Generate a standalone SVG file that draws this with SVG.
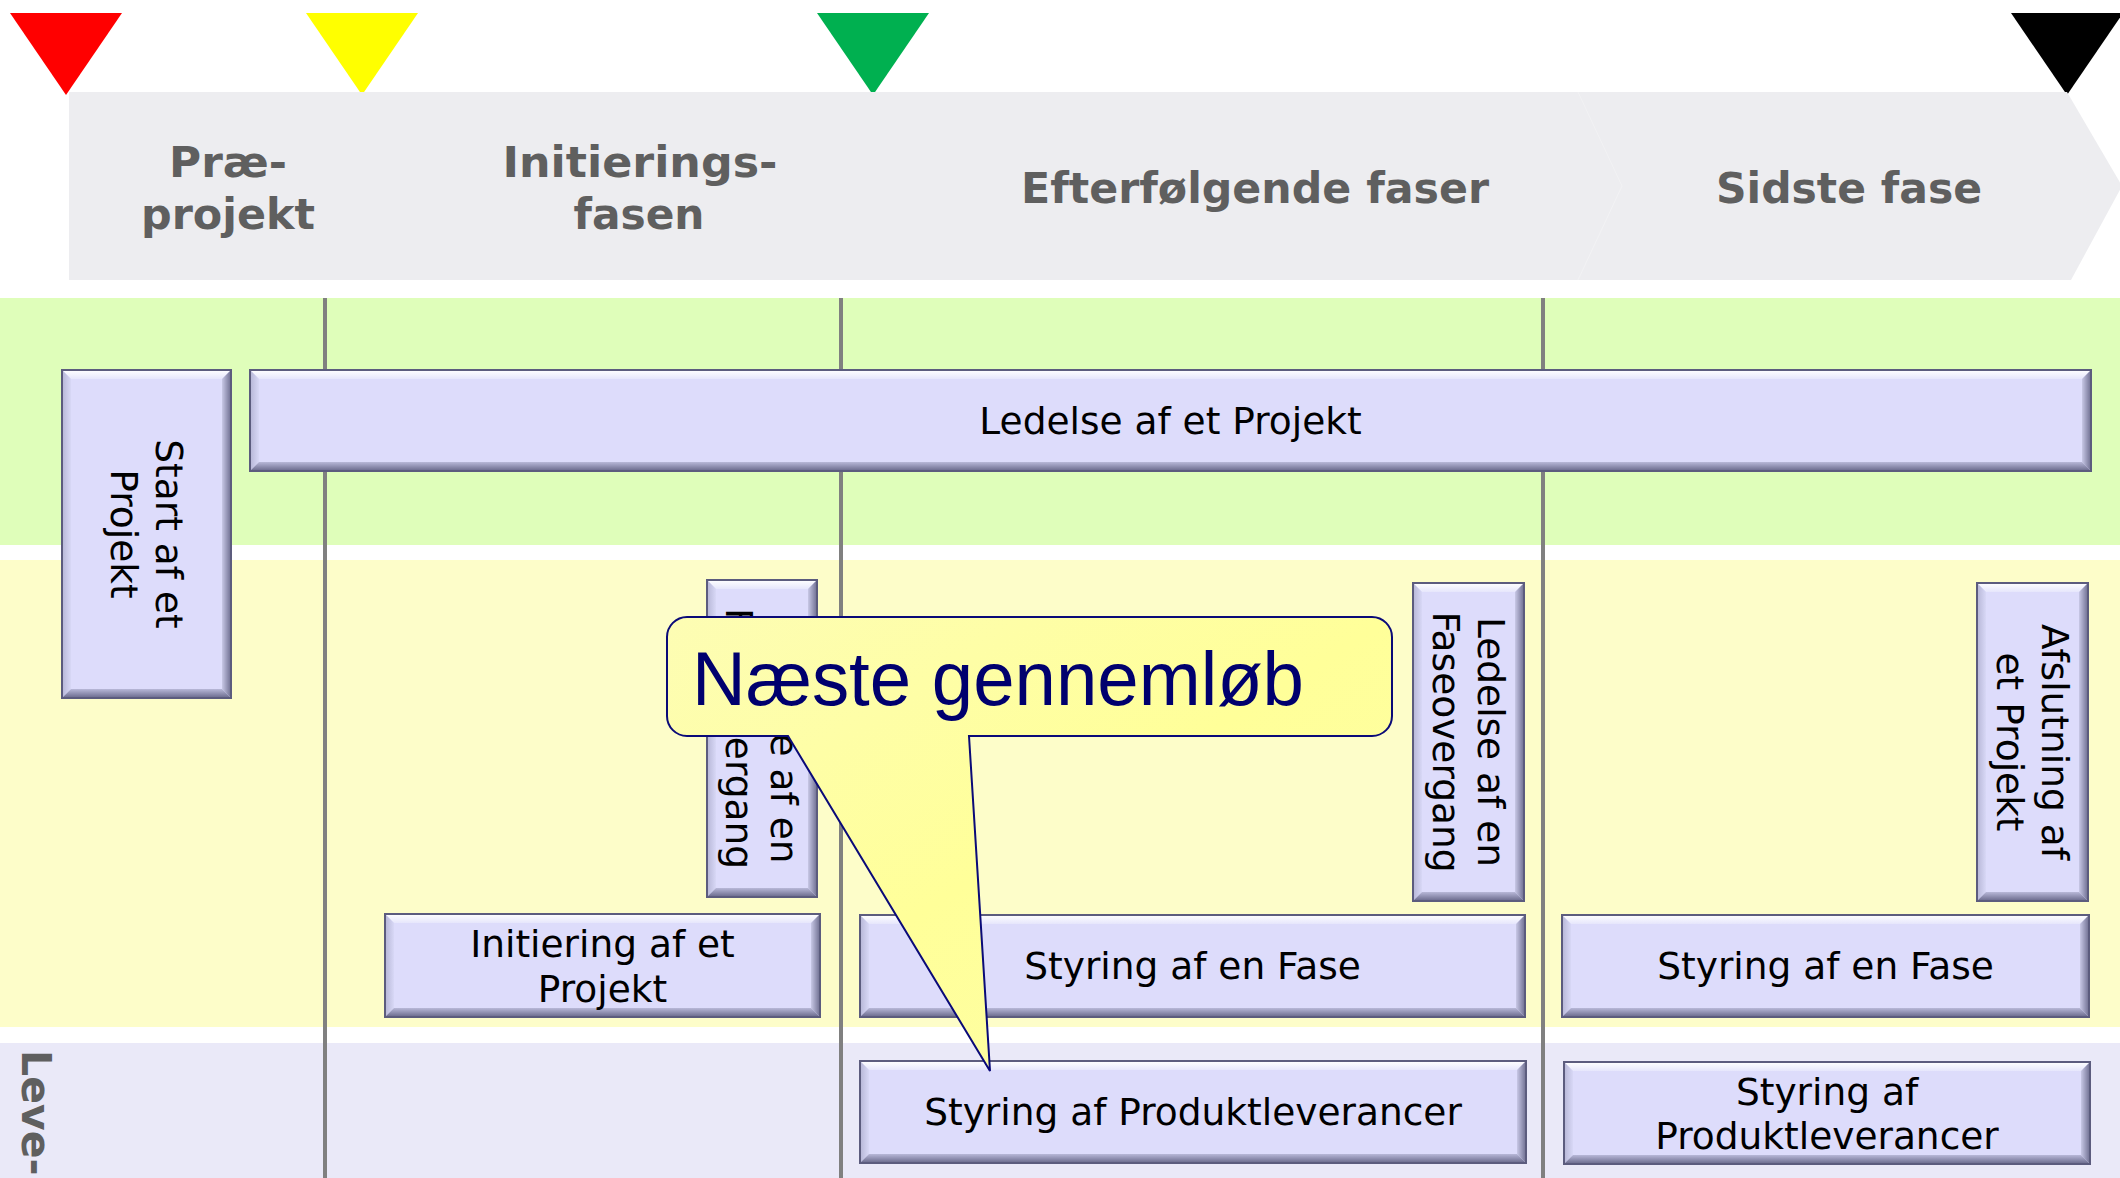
<svg xmlns="http://www.w3.org/2000/svg" width="2120" height="1178" viewBox="0 0 2120 1178">
<defs>
<style>
.hdr{font-family:"DejaVu Sans","Verdana",sans-serif;font-weight:bold;font-size:43px;fill:#5f5f5f;text-anchor:middle}
.bt{font-family:"DejaVu Sans","Verdana",sans-serif;font-size:37.5px;fill:#000;text-anchor:middle}
.face{fill:#dddcfb}
.edge{fill:none;stroke:#5c5c7e;stroke-width:2}
.vl{stroke:#808080;stroke-width:4;fill:none}
.tri{stroke:none}
</style>
<linearGradient id="gTop" x1="0" y1="0" x2="0" y2="1"><stop offset="0" stop-color="#ffffff"/><stop offset="1" stop-color="#e6e6fc"/></linearGradient>
<linearGradient id="gLeft" x1="0" y1="0" x2="1" y2="0"><stop offset="0" stop-color="#b6b6d6"/><stop offset="1" stop-color="#d8d8f6"/></linearGradient>
<linearGradient id="gRight" x1="0" y1="0" x2="1" y2="0"><stop offset="0" stop-color="#c8c8e6"/><stop offset="1" stop-color="#6e6e90"/></linearGradient>
<linearGradient id="gBottom" x1="0" y1="0" x2="0" y2="1"><stop offset="0" stop-color="#b8b8d8"/><stop offset="1" stop-color="#68688a"/></linearGradient>
<linearGradient id="gCall" x1="0" y1="0" x2="1" y2="1"><stop offset="0" stop-color="#fdfdb4"/><stop offset="0.5" stop-color="#ffff99"/><stop offset="1" stop-color="#fdfda8"/></linearGradient>
</defs>

<rect x="0" y="0" width="2120" height="1178" fill="#ffffff"/>

<g id="milestones">
<polygon class="tri" points="10,13 122,13 66,95" fill="#ff0000"/>
<polygon class="tri" points="306,13 418,13 362,95" fill="#ffff00"/>
<polygon class="tri" points="817,13 929,13 873,95" fill="#00b050"/>
<polygon class="tri" points="2011,13 2123,13 2067,95" fill="#000000"/>
</g>

<g id="phase-band">
<polygon points="69,92 2067,92 2122,186 2071,280 69,280" fill="#ededf0"/>
<polyline points="1578,92 1622,186 1578,280" fill="none" stroke="#f2f2f4" stroke-width="1"/>
<text class="hdr" x="228" y="177" textLength="118" lengthAdjust="spacingAndGlyphs">Præ-</text>
<text class="hdr" x="228" y="229" textLength="174" lengthAdjust="spacingAndGlyphs">projekt</text>
<text class="hdr" x="640" y="177" textLength="275" lengthAdjust="spacingAndGlyphs">Initierings-</text>
<text class="hdr" x="639" y="229" textLength="131" lengthAdjust="spacingAndGlyphs">fasen</text>
<text class="hdr" x="1255" y="203" textLength="468" lengthAdjust="spacingAndGlyphs">Efterfølgende faser</text>
<text class="hdr" x="1849" y="203" textLength="266" lengthAdjust="spacingAndGlyphs">Sidste fase</text>
</g>

<g id="lanes">
<rect x="0" y="298" width="2120" height="247" fill="#dffeba"/>
<rect x="0" y="560" width="2120" height="467" fill="#fdfdc9"/>
<rect x="0" y="1043" width="2120" height="135" fill="#eae9f8"/>
<text class="hdr" style="text-anchor:start;font-size:41px" transform="translate(22,1050) rotate(90)" x="0" y="0">Leve-</text>
</g>

<g id="phase-lines">
<line class="vl" x1="325" y1="298" x2="325" y2="1178"/>
<line class="vl" x1="841" y1="298" x2="841" y2="1178"/>
<line class="vl" x1="1543" y1="298" x2="1543" y2="1178"/>
</g>

<g id="start-af-et-projekt">
<rect class="face" x="62" y="370" width="169" height="328"/>
<polygon fill="url(#gTop)" points="62,370 231,370 222,379 71,379"/>
<polygon fill="url(#gLeft)" points="62,370 71,379 71,689 62,698"/>
<polygon fill="url(#gRight)" points="231,370 231,698 222,689 222,379"/>
<polygon fill="url(#gBottom)" points="62,698 71,689 222,689 231,698"/>
<rect class="edge" x="62" y="370" width="169" height="328"/>
<g transform="translate(146.5,534) rotate(90)"><text class="bt" x="0" y="-9">Start af et</text><text class="bt" x="0" y="36">Projekt</text></g>
</g>

<g id="ledelse-af-et-projekt">
<rect class="face" x="250" y="370" width="1841" height="101"/>
<polygon fill="url(#gTop)" points="250,370 2091,370 2082,379 259,379"/>
<polygon fill="url(#gLeft)" points="250,370 259,379 259,462 250,471"/>
<polygon fill="url(#gRight)" points="2091,370 2091,471 2082,462 2082,379"/>
<polygon fill="url(#gBottom)" points="250,471 259,462 2082,462 2091,471"/>
<rect class="edge" x="250" y="370" width="1841" height="101"/>
<text class="bt" x="1170.5" y="434">Ledelse af et Projekt</text>
</g>

<g id="faseovergang-1">
<rect class="face" x="707" y="580" width="110" height="317"/>
<polygon fill="url(#gTop)" points="707,580 817,580 808,589 716,589"/>
<polygon fill="url(#gLeft)" points="707,580 716,589 716,888 707,897"/>
<polygon fill="url(#gRight)" points="817,580 817,897 808,888 808,589"/>
<polygon fill="url(#gBottom)" points="707,897 716,888 808,888 817,897"/>
<rect class="edge" x="707" y="580" width="110" height="317"/>
<g transform="translate(762,738.5) rotate(90)"><text class="bt" x="0" y="-9">Ledelse af en</text><text class="bt" x="0" y="36">Faseovergang</text></g>
</g>

<g id="faseovergang-2">
<rect class="face" x="1413" y="583" width="111" height="318"/>
<polygon fill="url(#gTop)" points="1413,583 1524,583 1515,592 1422,592"/>
<polygon fill="url(#gLeft)" points="1413,583 1422,592 1422,892 1413,901"/>
<polygon fill="url(#gRight)" points="1524,583 1524,901 1515,892 1515,592"/>
<polygon fill="url(#gBottom)" points="1413,901 1422,892 1515,892 1524,901"/>
<rect class="edge" x="1413" y="583" width="111" height="318"/>
<g transform="translate(1468.5,742) rotate(90)"><text class="bt" x="0" y="-9">Ledelse af en</text><text class="bt" x="0" y="36">Faseovergang</text></g>
</g>

<g id="afslutning-af-et-projekt">
<rect class="face" x="1977" y="583" width="111" height="318"/>
<polygon fill="url(#gTop)" points="1977,583 2088,583 2079,592 1986,592"/>
<polygon fill="url(#gLeft)" points="1977,583 1986,592 1986,892 1977,901"/>
<polygon fill="url(#gRight)" points="2088,583 2088,901 2079,892 2079,592"/>
<polygon fill="url(#gBottom)" points="1977,901 1986,892 2079,892 2088,901"/>
<rect class="edge" x="1977" y="583" width="111" height="318"/>
<g transform="translate(2032.5,742) rotate(90)"><text class="bt" x="0" y="-9">Afslutning af</text><text class="bt" x="0" y="36">et Projekt</text></g>
</g>

<g id="initiering-af-et-projekt">
<rect class="face" x="385" y="914" width="435" height="103"/>
<polygon fill="url(#gTop)" points="385,914 820,914 811,923 394,923"/>
<polygon fill="url(#gLeft)" points="385,914 394,923 394,1008 385,1017"/>
<polygon fill="url(#gRight)" points="820,914 820,1017 811,1008 811,923"/>
<polygon fill="url(#gBottom)" points="385,1017 394,1008 811,1008 820,1017"/>
<rect class="edge" x="385" y="914" width="435" height="103"/>
<text class="bt" x="602.5" y="957">Initiering af et</text>
<text class="bt" x="602.5" y="1002">Projekt</text>
</g>

<g id="styring-af-en-fase-1">
<rect class="face" x="860" y="915" width="665" height="102"/>
<polygon fill="url(#gTop)" points="860,915 1525,915 1516,924 869,924"/>
<polygon fill="url(#gLeft)" points="860,915 869,924 869,1008 860,1017"/>
<polygon fill="url(#gRight)" points="1525,915 1525,1017 1516,1008 1516,924"/>
<polygon fill="url(#gBottom)" points="860,1017 869,1008 1516,1008 1525,1017"/>
<rect class="edge" x="860" y="915" width="665" height="102"/>
<text class="bt" x="1192.5" y="979">Styring af en Fase</text>
</g>

<g id="styring-af-en-fase-2">
<rect class="face" x="1562" y="915" width="527" height="102"/>
<polygon fill="url(#gTop)" points="1562,915 2089,915 2080,924 1571,924"/>
<polygon fill="url(#gLeft)" points="1562,915 1571,924 1571,1008 1562,1017"/>
<polygon fill="url(#gRight)" points="2089,915 2089,1017 2080,1008 2080,924"/>
<polygon fill="url(#gBottom)" points="1562,1017 1571,1008 2080,1008 2089,1017"/>
<rect class="edge" x="1562" y="915" width="527" height="102"/>
<text class="bt" x="1825.5" y="979">Styring af en Fase</text>
</g>

<g id="styring-af-produktleverancer-1">
<rect class="face" x="860" y="1061" width="666" height="102"/>
<polygon fill="url(#gTop)" points="860,1061 1526,1061 1517,1070 869,1070"/>
<polygon fill="url(#gLeft)" points="860,1061 869,1070 869,1154 860,1163"/>
<polygon fill="url(#gRight)" points="1526,1061 1526,1163 1517,1154 1517,1070"/>
<polygon fill="url(#gBottom)" points="860,1163 869,1154 1517,1154 1526,1163"/>
<rect class="edge" x="860" y="1061" width="666" height="102"/>
<text class="bt" x="1193" y="1125">Styring af Produktleverancer</text>
</g>

<g id="styring-af-produktleverancer-2">
<rect class="face" x="1564" y="1062" width="526" height="102"/>
<polygon fill="url(#gTop)" points="1564,1062 2090,1062 2081,1071 1573,1071"/>
<polygon fill="url(#gLeft)" points="1564,1062 1573,1071 1573,1155 1564,1164"/>
<polygon fill="url(#gRight)" points="2090,1062 2090,1164 2081,1155 2081,1071"/>
<polygon fill="url(#gBottom)" points="1564,1164 1573,1155 2081,1155 2090,1164"/>
<rect class="edge" x="1564" y="1062" width="526" height="102"/>
<text class="bt" x="1827" y="1105">Styring af</text>
<text class="bt" x="1827" y="1149">Produktleverancer</text>
</g>

<g id="connectors">
<g id="callout-naeste-gennemloeb">
<path d="M687,617 H1372 A20,20 0 0 1 1392,637 V716 A20,20 0 0 1 1372,736 H969 L990,1071 L788,736 H687 A20,20 0 0 1 667,716 V637 A20,20 0 0 1 687,617 Z" fill="url(#gCall)" stroke="#0a0a78" stroke-width="2"/>
<text x="692" y="705" font-family="'Liberation Sans',Arial,sans-serif" font-size="76" fill="#00006e" textLength="612" lengthAdjust="spacingAndGlyphs">Næste gennemløb</text>
</g>
</g>
</svg>
